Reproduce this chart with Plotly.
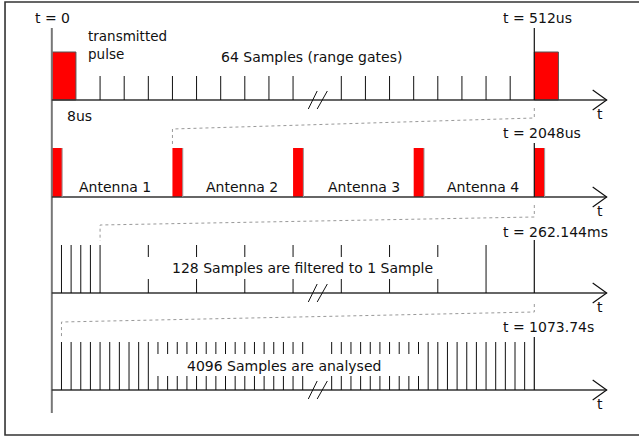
import plotly.graph_objects as go

# ---------------- data (time in "sample slots") ----------------
row1_gate_ticks = [5, 7.5, 10, 12.5, 15, 17.5, 20, 22.5, 25,
                   30, 32.5, 35, 37.5, 40, 42.5, 45, 47.5]
tx_pulses = [(0, 2.5), (50, 52.5)]
antenna_pulse_starts = [0, 12.5, 25, 37.5, 50]
antenna_pulse_width = 1.07
antenna_labels = ["Antenna 1", "Antenna 2", "Antenna 3", "Antenna 4"]
antenna_label_x = [6.55, 19.7, 32.3, 44.7]
row3_ticks = [1, 2, 3, 4, 5, 10, 15, 20, 25, 30, 35, 40, 45]
row3_split = [10, 15, 20, 25, 30, 35, 40]
row4_ticks = [k for k in range(1, 50) if k not in (27, 28)]
row4_split = [k for k in range(11, 39) if k not in (27, 28)]
period_end = 50
period_labels = ["t = 512us", "t = 2048us", "t = 262.144ms", "t = 1073.74s"]
row_texts = ["64 Samples (range gates)", "",
             "128 Samples are filtered to 1 Sample", "4096 Samples are analysed"]
row_text_x = [26.96, None, 26.0, 24.06]
connector_targets = [12.5, 5, 1]   # where each period lands on the next row

# ---------------- layout (vertical positions, styles) ----------------
X_RANGE = [-5.37, 60.85]
Y_RANGE = [437, 0]
BASE = [100, 197, 293, 390]
ARROW_TIP = 57.5
ARROW_BACK = 56.05
FONT = dict(family="DejaVu Sans", size=14, color="#111")

fig = go.Figure()
shapes = []
ann = []


def add_line(xs, ys, color="#111", width=1, dash="solid"):
    fig.add_trace(go.Scatter(x=xs, y=ys, mode="lines", hoverinfo="skip",
                             line=dict(color=color, width=width, dash=dash),
                             showlegend=False))


def text(x, y, s, xanchor="center", font=FONT):
    ann.append(dict(x=x, y=y, xref="x", yref="y", text=s, showarrow=False,
                    xanchor=xanchor, yanchor="middle", align=xanchor if xanchor != "center" else "center",
                    font=font))


# frame (top, left, bottom)
add_line([62, -4.85, -4.85, 62], [2, 2, 435, 435], color="#333", width=1.6)
# main vertical axis
add_line([0, 0], [28, 413], color="#777", width=2)

# baselines + arrows + 't'
for b in BASE:
    add_line([0, ARROW_TIP], [b, b], color="#333", width=1.6)
    add_line([ARROW_BACK, ARROW_TIP, ARROW_BACK], [b - 10, b, b + 10], color="#111", width=1.2)
    text(56.8, b + 14, "t")


def ticks(xs, b, top, split=(), gap=(12, 24)):
    X, Y = [], []
    for x in xs:
        if x in split:
            X += [x, x, None, x, x, None]
            Y += [b - top, b - top + gap[0], None, b - gap[1] + 10, b, None]
        else:
            X += [x, x, None]
            Y += [b - top, b, None]
    add_line(X, Y, color="#111", width=1)


def brk(b):
    add_line([26.58, 27.5, None, 27.5, 28.55], [b + 9, b - 9, None, b + 9, b - 9],
             color="#111", width=1)


# ---- row 1 ----
b = BASE[0]
ticks(row1_gate_ticks, b, 24)
brk(b)
for (x0, x1) in tx_pulses:
    shapes.append(dict(type="rect", xref="x", yref="y", x0=x0, x1=x1, y0=b - 48, y1=b,
                       fillcolor="#ff0000", line=dict(color="#555", width=1), layer="below"))
add_line([period_end, period_end], [28, b], width=1.2)
text(0.1, 18, "t = 0")
text(3.54, 45, "transmitted<br>pulse", "left",
     font=dict(family="DejaVu Sans", size=13.5, color="#111"))
text(row_text_x[0], 57, row_texts[0])
text(2.82, 116, "8us")

# ---- row 2 ----
b = BASE[1]
for x0 in antenna_pulse_starts:
    shapes.append(dict(type="rect", xref="x", yref="y", x0=x0, x1=x0 + antenna_pulse_width,
                       y0=b - 49, y1=b, fillcolor="#ff0000",
                       line=dict(color="#ff0000", width=0), layer="below"))
    add_line([x0 + antenna_pulse_width, x0 + antenna_pulse_width], [b - 49, b], color="#999", width=1)
add_line([period_end, period_end], [b - 54, b], width=1.2)
for lx, lab in zip(antenna_label_x, antenna_labels):
    text(lx, b - 10.5, lab)

# ---- row 3 ----
b = BASE[2]
ticks(row3_ticks, b, 48, split=row3_split, gap=(12, 24))
add_line([period_end, period_end], [b - 53, b], width=1.2)
brk(b)
text(row_text_x[2], b - 25, row_texts[2])

# ---- row 4 ----
b = BASE[3]
ticks(row4_ticks, b, 48, split=row4_split, gap=(12, 24))
add_line([period_end, period_end], [b - 53, b], width=1.2)
brk(b)
text(row_text_x[3], b - 24, row_texts[3])

# period labels
label_y = [18, 133, 232, 327]
for y, lab in zip(label_y, period_labels):
    text(46.55, y, lab, "left")

# dotted zoom connectors
conn_y = [(108, 118, 129, 144), (205, 217, 225, 241), (304, 312, 322, 337)]
for tgt, (ya, yb, yc, yd) in zip(connector_targets, conn_y):
    add_line([period_end, period_end, tgt, tgt], [ya, yb, yc, yd], color="#999", width=1, dash="dot")

fig.update_layout(
    width=639, height=437, margin=dict(l=0, r=0, t=0, b=0),
    paper_bgcolor="white", plot_bgcolor="white",
    xaxis=dict(range=X_RANGE, visible=False, fixedrange=True),
    yaxis=dict(range=Y_RANGE, visible=False, fixedrange=True),
    shapes=shapes, annotations=ann, showlegend=False,
)
fig.write_html("out.html", config={"displayModeBar": False},
               post_script="document.body.style.margin='0px';")
